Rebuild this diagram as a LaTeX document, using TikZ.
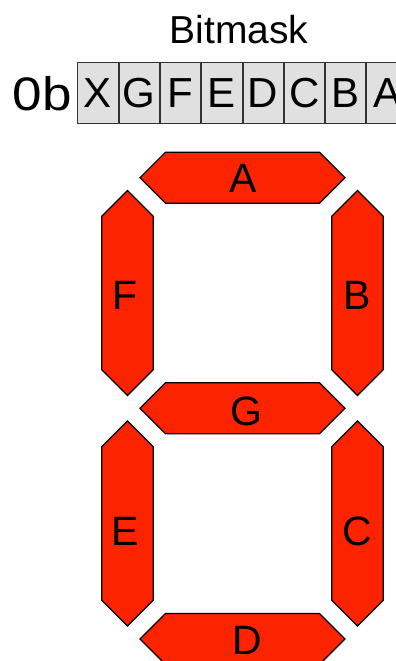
\documentclass[tikz,border=0pt]{standalone}
\usepackage{graphicx}
\usepackage{fontspec}
\setmainfont{Liberation Sans}
\definecolor{segred}{RGB}{252,36,0}
\definecolor{boxgray}{RGB}{224,224,224}
\definecolor{boxline}{RGB}{50,50,50}
\tikzset{
  segment/.style={fill=segred,draw=black,line width=1.3pt,line join=miter},
  seglabel/.style={inner sep=0pt,font=\fontsize{41}{48}\selectfont},
  bitbox/.style={draw=boxline,fill=boxgray,line width=1pt,minimum width=40.3pt,minimum height=61pt,inner sep=0pt,font=\fontsize{42}{48}\selectfont,anchor=west},
}
% horizontal segment: center x, center y
\def\HSeg#1#2{\path[segment] (#1-102.5,#2) -- (#1-77,#2-25.5) -- (#1+77,#2-25.5) -- (#1+102.5,#2) -- (#1+77,#2+25.5) -- (#1-77,#2+25.5) -- cycle;}
% vertical segment: center x, center y
\def\VSeg#1#2{\path[segment] (#1,#2-102.5) -- (#1+25.8,#2-76.7) -- (#1+25.8,#2+76.7) -- (#1,#2+102.5) -- (#1-25.8,#2+76.7) -- (#1-25.8,#2-76.7) -- cycle;}
\begin{document}
\begin{tikzpicture}[x=1pt,y=-1pt]
\useasboundingbox (0,0) rectangle (396,661);
\clip (0,0) rectangle (396,661);
% header
\node[inner sep=0pt,anchor=base,font=\fontsize{39}{46}\selectfont] (title) at (239,44) {Bitmask};
\node[inner sep=0pt,anchor=base east,font=\fontsize{47}{52}\selectfont] (prefix) at (72,110) {\scalebox{1.13}[1]{0b}};
\node[bitbox] (bX) at (77.3,92.8) {X};
\node[bitbox] (bG) at (bX.east) {G};
\node[bitbox] (bF) at (bG.east) {F};
\node[bitbox] (bE) at (bF.east) {E};
\node[bitbox] (bD) at (bE.east) {D};
\node[bitbox] (bC) at (bD.east) {C};
\node[bitbox] (bB) at (bC.east) {B};
\node[bitbox] (bA) at (bB.east) {A};
% segments
\HSeg{242.5}{177.7}
\HSeg{242.5}{408.3}
\HSeg{242.5}{639}
\VSeg{127.5}{293}
\VSeg{357.5}{293}
\VSeg{127.5}{523.5}
\VSeg{357.5}{523.5}
% labels
\node[seglabel] (lA) at (243,178) {A};
\node[seglabel] (lG) at (246,411) {G};
\node[seglabel] (lD) at (247,640) {D};
\node[seglabel] (lF) at (125,295) {F};
\node[seglabel] (lB) at (357,295) {B};
\node[seglabel] (lE) at (125,531) {E};
\node[seglabel] (lC) at (357,531) {C};
\end{tikzpicture}
\end{document}
